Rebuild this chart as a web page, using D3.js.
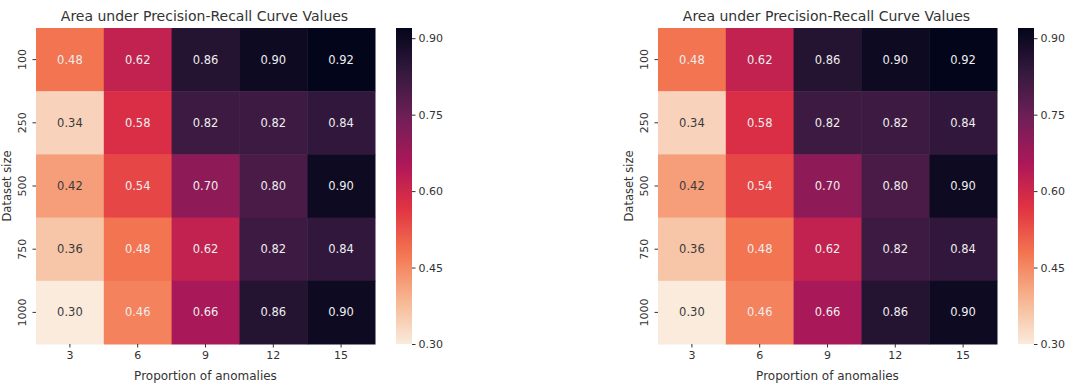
<!DOCTYPE html>
<html>
<head>
<meta charset="utf-8">
<script src="https://cdn.jsdelivr.net/npm/d3@7"></script>
<style>
  body { margin: 0; background: #fff; }
  text { font-family: "DejaVu Sans", sans-serif; }
</style>
</head>
<body>
<div id="chart"></div>
<script>
// data
const xLabels = ['3', '6', '9', '12', '15'];
const yLabels = ['100', '250', '500', '750', '1000'];
const values = [
  [0.48, 0.62, 0.86, 0.90, 0.92],
  [0.34, 0.58, 0.82, 0.82, 0.84],
  [0.42, 0.54, 0.70, 0.80, 0.90],
  [0.36, 0.48, 0.62, 0.82, 0.84],
  [0.30, 0.46, 0.66, 0.86, 0.90],
];
const cbarTicks = [0.30, 0.45, 0.60, 0.75, 0.90];
const vmin = 0.30, vmax = 0.92;

// seaborn "rocket" stops (used reversed: low = light)
const ROCKET = ['#03051a', '#35193e', '#701f57', '#ad1759', '#e13342', '#f37651', '#f6b48f', '#faebdd'];
const ROCKET_POS = [0, 1 / 7, 2 / 7, 3 / 7, 4 / 7, 5 / 7, 6 / 7, 1];
const rocket = d3.scaleLinear().domain(ROCKET_POS).range(ROCKET).interpolate(d3.interpolateRgb);
const colorOf = v => rocket(1 - (v - vmin) / (vmax - vmin));

function lum(c) {
  const rgb = d3.rgb(c);
  const f = x => { x /= 255; return x <= 0.03928 ? x / 12.92 : Math.pow((x + 0.055) / 1.055, 2.4); };
  return 0.2126 * f(rgb.r) + 0.7152 * f(rgb.g) + 0.0722 * f(rgb.b);
}

const W = 1084, H = 390;
const svg = d3.select('#chart').append('svg').attr('width', W).attr('height', H);
const defs = svg.append('defs');
const grad = defs.append('linearGradient').attr('id', 'cbar')
  .attr('x1', 0).attr('y1', 1).attr('x2', 0).attr('y2', 0);
d3.range(0, 1.0001, 0.02).forEach(t => {
  grad.append('stop').attr('offset', t).attr('stop-color', rocket(1 - t));
});

const TXT = '#333';
const FONT = '"DejaVu Sans", sans-serif';

function drawPanel(ox) {
  const m = { left: 36, top: 28 };
  const w = 339, h = 316;
  const g = svg.append('g').attr('transform', `translate(${ox},0)`);

  const x = d3.scaleBand().domain(xLabels).range([m.left, m.left + w]);
  const y = d3.scaleBand().domain(yLabels).range([m.top, m.top + h]);

  // cells
  yLabels.forEach((yl, i) => {
    xLabels.forEach((xl, j) => {
      const v = values[i][j];
      const c = colorOf(v);
      g.append('rect')
        .attr('x', x(xl)).attr('y', y(yl))
        .attr('width', x.bandwidth() + 0.5).attr('height', y.bandwidth() + 0.5)
        .attr('fill', c);
      g.append('text')
        .attr('x', x(xl) + x.bandwidth() / 2).attr('y', y(yl) + y.bandwidth() / 2)
        .attr('dy', '0.35em').attr('text-anchor', 'middle')
        .attr('font-size', 11.5)
        .attr('fill', lum(c) > 0.408 ? '#3a3a3a' : '#eee')
        .text(v.toFixed(2));
    });
  });

  // x axis
  const xa = g.append('g').attr('transform', `translate(0,${m.top + h})`)
    .call(d3.axisBottom(x).tickSize(3.5).tickPadding(4));
  xa.select('.domain').remove();
  xa.selectAll('line').attr('stroke', TXT);
  xa.selectAll('text').attr('font-size', 11).attr('fill', TXT).attr('font-family', FONT);

  // y axis (rotated labels)
  const ya = g.append('g').attr('transform', `translate(${m.left},0)`)
    .call(d3.axisLeft(y).tickSize(3.5).tickPadding(4));
  ya.select('.domain').remove();
  ya.selectAll('line').attr('stroke', TXT);
  ya.selectAll('text')
    .attr('font-size', 11).attr('fill', TXT).attr('font-family', FONT)
    .attr('x', null).attr('dy', null)
    .attr('text-anchor', 'middle')
    .attr('transform', 'translate(-10,0) rotate(-90)');

  // title + axis labels
  g.append('text').attr('x', m.left + w / 2 - 1).attr('y', 21)
    .attr('text-anchor', 'middle').attr('font-size', 14).attr('fill', TXT)
    .text('Area under Precision-Recall Curve Values');
  g.append('text').attr('x', m.left + w / 2).attr('y', 380)
    .attr('text-anchor', 'middle').attr('font-size', 12).attr('fill', TXT)
    .text('Proportion of anomalies');
  g.append('text').attr('transform', `translate(${10.5},${m.top + h / 2}) rotate(-90)`)
    .attr('text-anchor', 'middle').attr('font-size', 11.5).attr('fill', TXT)
    .text('Dataset size');

  // colorbar
  const cx = 396, cw = 16;
  const cs = d3.scaleLinear().domain([vmin, vmax]).range([m.top + h, m.top]);
  g.append('rect').attr('x', cx).attr('y', m.top).attr('width', cw).attr('height', h)
    .attr('fill', 'url(#cbar)');
  const ca = g.append('g').attr('transform', `translate(${cx + cw},0)`)
    .call(d3.axisRight(cs).tickValues(cbarTicks).tickFormat(d3.format('.2f')).tickSize(3.5).tickPadding(3));
  ca.select('.domain').remove();
  ca.selectAll('line').attr('stroke', TXT);
  ca.selectAll('text').attr('font-size', 11).attr('fill', TXT).attr('font-family', FONT);
}

drawPanel(0);
drawPanel(622);
</script>
</body>
</html>
